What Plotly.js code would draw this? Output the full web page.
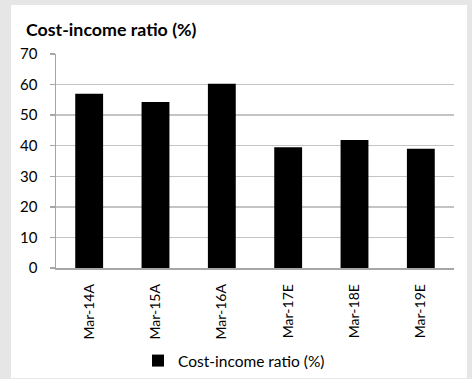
<!DOCTYPE html>
<html>
<head>
<meta charset="utf-8">
<script src="https://cdn.plot.ly/plotly-3.0.1.min.js"></script>
<style>html,body{margin:0;padding:0;background:#e6e6e6;}</style>
</head>
<body>
<div id="chart" style="width:472px;height:379px;"></div>
<script>
var categories = ["Mar-14A", "Mar-15A", "Mar-16A", "Mar-17E", "Mar-18E", "Mar-19E"];
var costIncome = [57.0, 54.3, 60.3, 39.5, 41.9, 39.0];
var seriesName = "Cost-income ratio (%)";
var chartTitle = "Cost-income ratio (%)";
var yTicks = [0, 10, 20, 30, 40, 50, 60, 70];

var FONT = "Lato, 'Open Sans', sans-serif";
var L = 56, R = 18, T = 54, B = 111;
var pw = 472 - L - R, ph = 379 - T - B;

var trace = {
  type: "bar",
  x: categories,
  y: costIncome,
  name: seriesName,
  marker: {color: "#000000", line: {width: 0}},
  showlegend: true
};

var layout = {
  width: 472, height: 379,
  paper_bgcolor: "#e6e6e6",
  plot_bgcolor: "rgba(0,0,0,0)",
  margin: {l: L, r: R, t: T, b: B, pad: 0, autoexpand: false},
  font: {family: FONT, size: 14, color: "#000000"},
  bargap: 0.58,
  showlegend: true,
  title: {
    text: "<b>" + chartTitle + "</b>",
    font: {family: FONT, size: 17.8, color: "#000000"},
    xref: "container", yref: "container",
    x: 26 / 472, xanchor: "left",
    y: 1 - 30 / 379, yanchor: "middle"
  },
  xaxis: {
    type: "category",
    tickangle: -90,
    showgrid: false,
    showline: true, linecolor: "#a6a6a6", linewidth: 1.5,
    ticks: "",
    ticklabelstandoff: 9,
    tickfont: {family: FONT, size: 14, color: "#000000"},
    fixedrange: true
  },
  yaxis: {
    range: [0, 70],
    tickvals: yTicks,
    showgrid: true, gridcolor: "#c4c4c4", gridwidth: 1.5,
    zeroline: false,
    showline: true, linecolor: "#a6a6a6", linewidth: 1.5,
    ticks: "outside", ticklen: 5, tickcolor: "#a6a6a6", tickwidth: 1.5,
    ticklabelstandoff: 9,
    tickfont: {family: FONT, size: 15, color: "#000000"},
    fixedrange: true
  },
  legend: {
    orientation: "h",
    xref: "container", yref: "container",
    x: 234 / 472, xanchor: "center",
    y: 1 - 361 / 379, yanchor: "middle",
    bgcolor: "rgba(0,0,0,0)",
    font: {family: FONT, size: 15.5, color: "#000000"},
    itemwidth: 30
  },
  shapes: [{
    type: "rect", layer: "below",
    xref: "paper", yref: "paper",
    x0: (11 - L) / pw, x1: (467 - L) / pw,
    y0: (268 - 378) / ph, y1: (268 - 5) / ph,
    fillcolor: "#ffffff", line: {width: 0}
  }]
};

Plotly.newPlot("chart", [trace], layout, {displayModeBar: false, staticPlot: true});
</script>
</body>
</html>
